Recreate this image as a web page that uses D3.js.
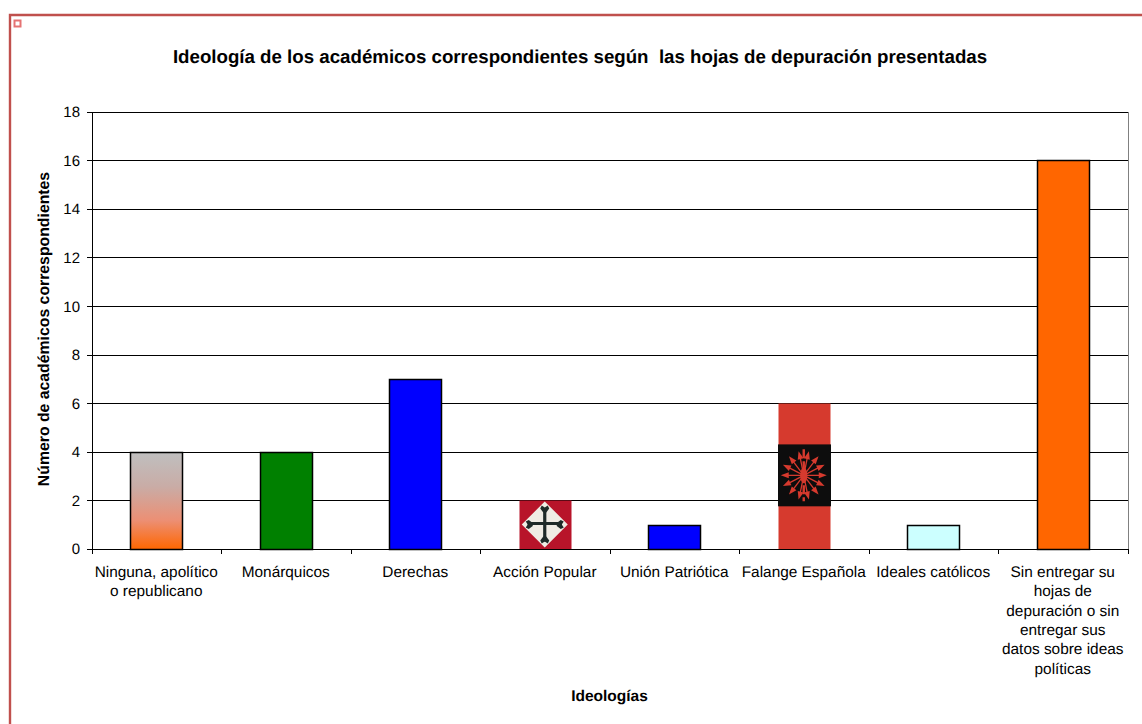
<!DOCTYPE html>
<html><head><meta charset="utf-8">
<script src="https://cdn.jsdelivr.net/npm/d3@7/dist/d3.min.js"></script>
<style>html,body{margin:0;padding:0;background:#fff}svg{display:block}text{font-family:"Liberation Sans",Arial,sans-serif;fill:#000;text-rendering:geometricPrecision}</style>
</head><body><div id="c"></div>
<script>
const categories=[["Ninguna, apolítico","o republicano"],["Monárquicos"],["Derechas"],["Acción Popular"],["Unión Patriótica"],["Falange Española"],["Ideales católicos"],["Sin entregar su","hojas de","depuración o sin","entregar sus","datos sobre ideas","políticas"]];
const values=[4,4,7,2,1,6,1,16];
const fills=["url(#g)","#008000","#0000ff","#b8142a","#0000ff","#d63a2e","#ccffff","#ff6600"];
const strokes=["#000","#000","#000","none","#000","none","#000","#000"];
const yTicks=d3.range(0,19,2);
const title="Ideología de los académicos correspondientes según  las hojas de depuración presentadas";
const xTitle="Ideologías", yTitle="Número de académicos correspondientes";
const arrowAngles=[0,25,50,75,105,130,155,180,205,230,255,285,310,335];

const svg=d3.select("#c").append("svg").attr("width",1142).attr("height",724);
const defs=svg.append("defs");
const g=defs.append("linearGradient").attr("id","g").attr("x1",0).attr("x2",0).attr("y1",0).attr("y2",1);
g.append("stop").attr("offset","0%").attr("stop-color","#bfbfbf");
g.append("stop").attr("offset","35%").attr("stop-color","#c9aca6");
g.append("stop").attr("offset","70%").attr("stop-color","#ec8f74");
g.append("stop").attr("offset","100%").attr("stop-color","#ff6600");

const x=d3.scaleBand().domain(d3.range(categories.length)).range([91.5,1127.5]);
const y=d3.scaleLinear().domain([0,18]).range([548.8,111.8]);
const bw=52;
const cx=i=>x(i)+x.bandwidth()/2;

// frame
svg.append("path").attr("d","M10,724V15H1142").attr("fill","none").attr("stroke","#c0504d").attr("stroke-width",2.4);
svg.append("rect").attr("x",14.5).attr("y",20.5).attr("width",6).attr("height",6).attr("fill","#fff").attr("stroke","#e57373").attr("stroke-width",2);

// grid
svg.append("g").selectAll("line").data(yTicks.filter(d=>d>0)).join("line")
 .attr("x1",92).attr("x2",1128).attr("y1",d=>Math.round(y(d))+.5).attr("y2",d=>Math.round(y(d))+.5)
 .attr("stroke","#000").attr("stroke-width",1);
svg.append("line").attr("x1",1128.5).attr("x2",1128.5).attr("y1",112).attr("y2",549).attr("stroke","#808080");

// bars
svg.append("g").selectAll("rect").data(values).join("rect")
 .attr("x",(d,i)=>Math.round(cx(i)-bw/2)+.5).attr("width",bw)
 .attr("y",d=>Math.round(y(d))+.5).attr("height",d=>Math.round(y(0))-Math.round(y(d)))
 .attr("fill",(d,i)=>fills[i]).attr("stroke",(d,i)=>strokes[i]).attr("stroke-width",1.5);

// Acción Popular emblem
const apx=cx(3), apy=(y(0)+y(2))/2;
const ap=svg.append("g").attr("transform",`translate(${apx},${apy})`);
ap.append("path").attr("d","M0,-23L23,0L0,23L-23,0Z").attr("fill","#efece4");
ap.append("path").attr("d","M0,-16V17M-17,-1H17").attr("stroke","#1e2a28").attr("stroke-width",3.2);
ap.selectAll("path.f").data([0,90,180,270]).join("path").attr("class","f")
 .attr("transform",a=>`rotate(${a})`)
 .attr("d","M-1.5,-12L-4.5,-16L-3,-19L0,-17L3,-19L4.5,-16L1.5,-12Z").attr("fill","#1e2a28");

// Falange emblem
const fx=cx(5);
const band=svg.append("g");
band.append("rect").attr("x",Math.round(fx-bw/2)).attr("width",bw+1).attr("y",y(4.3)).attr("height",y(1.75)-y(4.3)).attr("fill","#0d0d0d");
const em=band.append("g").attr("transform",`translate(${fx},${(y(4.3)+y(1.75))/2})`);
const ex=a=>Math.cos(a*Math.PI/180)*(Math.abs(Math.cos(a*Math.PI/180))>.5?18:15);
const ey=a=>Math.sin(a*Math.PI/180)*20;
em.selectAll("line").data(arrowAngles).join("line")
 .attr("x1",0).attr("y1",0).attr("x2",ex).attr("y2",ey)
 .attr("stroke","#d63a2e").attr("stroke-width",1.3);
em.selectAll("path.h").data(arrowAngles).join("path").attr("class","h")
 .attr("d","M-3,-3L5,0L-3,3Z").attr("fill","#d63a2e")
 .attr("transform",a=>`translate(${ex(a)},${ey(a)}) rotate(${a})`);
em.append("path").attr("d","M0,-26V26").attr("stroke","#d63a2e").attr("stroke-width",2.4).attr("stroke-dasharray","9 3");
em.append("ellipse").attr("rx",3.5).attr("ry",8).attr("fill","#d63a2e");

// axes
const ya=svg.append("g");
ya.append("line").attr("x1",92.5).attr("x2",92.5).attr("y1",112).attr("y2",549).attr("stroke","#000");
ya.selectAll("line.t").data(yTicks).join("line").attr("class","t").attr("x1",87).attr("x2",92)
 .attr("y1",d=>Math.round(y(d))+.5).attr("y2",d=>Math.round(y(d))+.5).attr("stroke","#000");
ya.selectAll("text").data(yTicks).join("text").attr("x",80).attr("y",d=>y(d)+5.5)
 .attr("text-anchor","end").attr("font-size",15).text(d=>d);
svg.append("line").attr("x1",92).attr("x2",1128).attr("y1",549.5).attr("y2",549.5).attr("stroke","#000");
svg.append("g").selectAll("line").data(d3.range(categories.length+1)).join("line")
 .attr("x1",i=>Math.round(91.5+i*x.bandwidth())+.5).attr("x2",i=>Math.round(91.5+i*x.bandwidth())+.5)
 .attr("y1",549).attr("y2",554).attr("stroke","#000");
const lab=svg.append("g").selectAll("text").data(categories).join("text")
 .attr("text-anchor","middle").attr("font-size",15.4);
lab.selectAll("tspan").data((d,i)=>d.map(s=>({s,i}))).join("tspan")
 .attr("x",d=>cx(d.i)).attr("y",(d,j)=>577+j*19.3).text(d=>d.s);

// titles
svg.append("text").attr("x",580).attr("y",63).attr("text-anchor","middle").attr("font-size",18.7).attr("font-weight","bold").attr("xml:space","preserve").style("white-space","pre").text(title);
svg.append("text").attr("x",609.5).attr("y",701).attr("text-anchor","middle").attr("font-size",15.5).attr("font-weight","bold").text(xTitle);
svg.append("text").attr("transform","translate(49,329) rotate(-90)").attr("text-anchor","middle").attr("font-size",15.8).attr("font-weight","bold").text(yTitle);
</script></body></html>
